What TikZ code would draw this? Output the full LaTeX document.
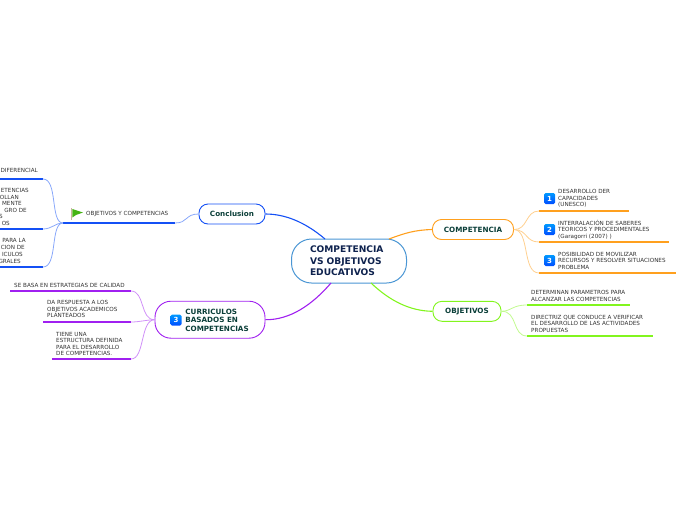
\documentclass[tikz,border=0pt]{standalone}
\usepackage{fontspec}
\setmainfont{DejaVu Sans}
\usepackage{tikz}
\usetikzlibrary{positioning,calc}
\definecolor{centerblue}{RGB}{74,150,212}
\definecolor{darkink}{RGB}{14,34,78}
\definecolor{topicink}{RGB}{10,62,56}
\definecolor{leafink}{RGB}{50,50,50}
\definecolor{conclblue}{RGB}{20,80,245}
\definecolor{curvioleta}{RGB}{160,32,240}
\definecolor{compnaranja}{RGB}{255,160,30}
\definecolor{objverde}{RGB}{130,245,30}
\definecolor{flaggreen}{RGB}{70,180,20}
\definecolor{flagpole}{RGB}{205,180,160}
\tikzset{
  centerbox/.style={draw=centerblue,line width=1pt,rounded corners=20pt,fill=white,minimum width=115pt,minimum height=44pt,text width=78pt,font=\fontsize{9.1}{11.4}\selectfont\bfseries,text=darkink,align=left},
  topicbox/.style={draw=#1,line width=0.9pt,rounded corners=9pt,fill=white,minimum height=20pt,font=\fontsize{7.2}{8.6}\selectfont\bfseries,text=topicink},
  leaftext/.style={font=\fontsize{5.65}{6.5}\selectfont,text=leafink,align=left,inner sep=0pt},
  badge/.style={top color=cyan!60!blue,bottom color=blue!70!cyan,rounded corners=1.5pt,minimum size=11pt,inner sep=0pt,text=white,font=\fontsize{7}{7}\selectfont\bfseries},
  mainlink/.style={line width=1.1pt,#1},
  twig/.style={line width=0.8pt,#1!50},
  baseline/.style={line width=1.4pt,#1}
}
\begin{document}
\begin{tikzpicture}[x=1pt,y=-1pt]
  \useasboundingbox (0,0) rectangle (696,520);
  % Topics
  \node[centerbox] (center) at (349,261) {COMPETENCIA\\VS OBJETIVOS\\EDUCATIVOS};
  \node[topicbox=compnaranja,minimum width=81pt] (comp) at (473,229.5) {COMPETENCIA};
  \node[topicbox=objverde,minimum width=68pt] (obj) at (467,311.3) {OBJETIVOS};
  \node[topicbox=conclblue,minimum width=66pt] (concl) at (232,214) {Conclusion};
  \node[topicbox=curvioleta,minimum width=110pt,minimum height=37pt,rounded corners=16pt] (curri) at (210,319.7) {};
  \node[badge] (curribadge) at (176,320) {3};
  \node[font=\fontsize{7.2}{8.6}\selectfont\bfseries,text=topicink,align=left,inner sep=0pt,right=3.5pt of curribadge] (curritext) {CURRICULOS\\BASADOS EN\\COMPETENCIAS};
  % Main links
  \draw[mainlink=compnaranja] (389,239) .. controls (405,233) and (415,230) .. (comp.west);
  \draw[mainlink=objverde] (371,283) .. controls (390,301) and (410,311) .. (obj.west);
  \draw[mainlink=conclblue] (325,239) .. controls (305,222) and (285,214) .. (concl.east);
  \draw[mainlink=curvioleta] (331,283) .. controls (312,305) and (290,320) .. (curri.east);
  % Right leaves
  \node[badge] (b1) at (549.5,198.5) {1};
  \node[badge] (b2) at (549.5,229.5) {2};
  \node[badge] (b3) at (549.5,260.5) {3};
  \node[leaftext,anchor=west] (c1) at (558,198.5) {DESARROLLO DER\\CAPACIDADES\\(UNESCO)};
  \node[leaftext,anchor=west] (c2) at (558,229.5) {INTERRALACIÓN DE SABERES\\TEORICOS Y PROCEDIMENTALES\\(Garagorri (2007) )};
  \node[leaftext,anchor=west] (c3) at (558,260.5) {POSIBILIDAD DE MOVILIZAR\\RECURSOS Y RESOLVER SITUACIONES\\PROBLEMA};
  \node[leaftext,anchor=west] (o1) at (531,296) {DETERMINAN PARAMETROS PARA\\ALCANZAR LAS COMPETENCIAS};
  \node[leaftext,anchor=west] (o2) at (531,323.5) {DIRECTRIZ QUE CONDUCE A VERIFICAR\\EL DESARROLLO DE LAS ACTIVIDADES\\PROPUESTAS};
  % Left leaves
  \node[leaftext,anchor=west] (g1) at (86,214) {OBJETIVOS Y COMPETENCIAS};
  \node[leaftext,anchor=west] (v1) at (14,285) {SE BASA EN ESTRATEGIAS DE CALIDAD};
  \node[leaftext,anchor=west] (v2) at (47,309) {DA RESPUESTA A LOS\\OBJETIVOS ACADEMICOS\\PLANTEADOS};
  \node[leaftext,anchor=west] (v3) at (56,344) {TIENE UNA\\ESTRUCTURA DEFINIDA\\PARA EL DESARROLLO\\DE COMPETENCIAS.};
  % Lines cut off by the left edge
  \foreach \i/\txt/\xend/\yline in {1/DIFERENCIAL/38/170,2/ETENCIAS/29/190.7,3/OLLAN/19/197,4/MENTE/22/203.7,5/GRO DE/27/210,6/S/3/216.5,7/OS/10/223,8/PARA LA/26/240.7,9/CION DE/25/247.5,10/ICULOS/23/254,11/GRALES/21/261}
    \node[leaftext,anchor=east] (cut\i) at (\xend,\yline) {\txt};
  % Flag
  \fill[flagpole] (71,208) rectangle (72.3,220);
  \fill[flaggreen] (72.3,209) -- (83,212.5) -- (76,215) -- (72.3,217.5) -- cycle;
  % Underlines
  \coordinate (c1a) at (539,211); \coordinate (c1b) at (629,211);
  \coordinate (c2a) at (539,242); \coordinate (c2b) at (669,242);
  \coordinate (c3a) at (539,273); \coordinate (c3b) at (676,273);
  \coordinate (o1a) at (527,305); \coordinate (o1b) at (630,305);
  \coordinate (o2a) at (527,336); \coordinate (o2b) at (653,336);
  \coordinate (g1a) at (63,223); \coordinate (g1b) at (175,223);
  \coordinate (l1a) at (0,179); \coordinate (l1b) at (43,179);
  \coordinate (l2a) at (0,229); \coordinate (l2b) at (43,229);
  \coordinate (l3a) at (0,267); \coordinate (l3b) at (43,267);
  \coordinate (v1a) at (10,291); \coordinate (v1b) at (131,291);
  \coordinate (v2a) at (43,322); \coordinate (v2b) at (131,322);
  \coordinate (v3a) at (52,359); \coordinate (v3b) at (131,359);
  \draw[baseline=compnaranja] (c1a) -- (c1b);
  \draw[baseline=compnaranja] (c2a) -- (c2b);
  \draw[baseline=compnaranja] (c3a) -- (c3b);
  \draw[baseline=objverde] (o1a) -- (o1b);
  \draw[baseline=objverde] (o2a) -- (o2b);
  \draw[baseline=conclblue] (g1a) -- (g1b);
  \draw[baseline=conclblue] (l1a) -- (l1b);
  \draw[baseline=conclblue] (l2a) -- (l2b);
  \draw[baseline=conclblue] (l3a) -- (l3b);
  \draw[baseline=curvioleta] (v1a) -- (v1b);
  \draw[baseline=curvioleta] (v2a) -- (v2b);
  \draw[baseline=curvioleta] (v3a) -- (v3b);
  % Twigs
  \draw[twig=compnaranja] (comp.east) .. controls (528,230) and (525,211) .. (c1a);
  \draw[twig=compnaranja] (comp.east) .. controls (528,230) and (525,242) .. (c2a);
  \draw[twig=compnaranja] (comp.east) .. controls (530,230) and (522,273) .. (c3a);
  \draw[twig=objverde] (obj.east) .. controls (512,311) and (512,305) .. (o1a);
  \draw[twig=objverde] (obj.east) .. controls (518,311) and (512,336) .. (o2a);
  \draw[twig=conclblue] (concl.west) .. controls (185,214) and (188,223) .. (g1b);
  \draw[twig=conclblue] (g1a) .. controls (50,223) and (58,179) .. (l1b);
  \draw[twig=conclblue] (g1a) .. controls (55,223) and (52,229) .. (l2b);
  \draw[twig=conclblue] (g1a) .. controls (50,223) and (58,267) .. (l3b);
  \draw[twig=curvioleta] (curri.west) .. controls (140,320) and (145,291) .. (v1b);
  \draw[twig=curvioleta] (curri.west) .. controls (145,320) and (140,322) .. (v2b);
  \draw[twig=curvioleta] (curri.west) .. controls (140,320) and (145,359) .. (v3b);
\end{tikzpicture}
\end{document}
